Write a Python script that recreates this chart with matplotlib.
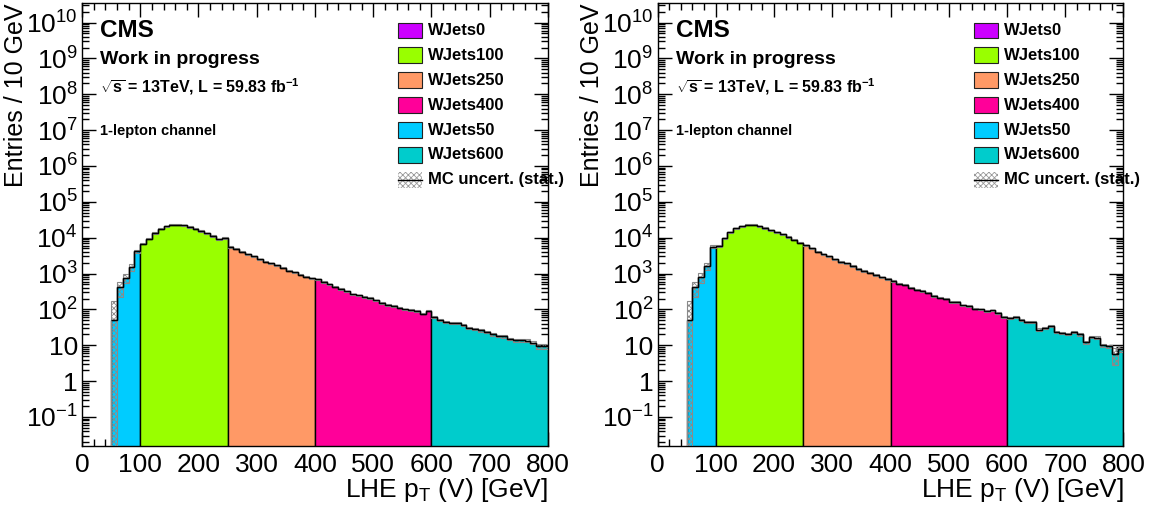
import numpy as np
import matplotlib
matplotlib.use("Agg")
import matplotlib.pyplot as plt
from matplotlib.patches import Rectangle
from matplotlib.lines import Line2D
from matplotlib.ticker import MultipleLocator, LogLocator, FixedLocator, FuncFormatter, NullFormatter

plt.rcParams['font.family'] = ['Liberation Sans', 'DejaVu Sans']
plt.rcParams['mathtext.fontset'] = 'custom'
plt.rcParams['mathtext.rm'] = 'Liberation Sans'
plt.rcParams['mathtext.it'] = 'Liberation Sans:italic'
plt.rcParams['mathtext.bf'] = 'Liberation Sans:bold'
plt.rcParams['hatch.linewidth'] = 0.6

# ---- samples (legend order) and colours ----
samples = ["WJets0", "WJets100", "WJets250", "WJets400", "WJets50", "WJets600"]
colors = {
    "WJets0": "#cc00ff",
    "WJets100": "#99ff00",
    "WJets250": "#ff9966",
    "WJets400": "#ff0099",
    "WJets50": "#00ccff",
    "WJets600": "#00cccc",
}
# first bin edge of each populated sample (GeV), 10 GeV bins
bin_width = 10
first_edge = {"WJets50": 50, "WJets100": 100, "WJets250": 250, "WJets400": 400, "WJets600": 600}

# ---- left panel: entries per 10 GeV bin ----
left_w50 = [52, 410, 760, 1510, 4170]
left_w100 = [6760, 9330, 13500, 17800, 20900, 22900, 22900, 21900, 20000, 17800,
             15500, 13200, 11200, 9120, 9770]
left_w250 = [5500, 4900, 4070, 3470, 3020, 2510, 2140, 1910, 1700, 1450,
             1200, 1070, 930, 810, 740]
left_w400 = [690, 590, 500, 430, 365, 316, 263, 245, 224, 209,
             178, 151, 135, 123, 112, 100, 95, 91, 76, 93]
left_w600 = [62, 52, 45, 42, 41, 37, 31, 29, 26, 23.4,
             20, 18.2, 17.8, 14.8, 13.8, 13.8, 13.5, 11.7, 9.3, 9.3]

# ---- right panel: entries per 10 GeV bin ----
right_w50 = [52, 410, 800, 1600, 5560]
right_w100 = [5900, 9500, 14000, 18200, 20900, 22900, 22900, 20900, 18600, 16200,
              14000, 12300, 10500, 8900, 7300]
right_w250 = [6170, 5000, 4070, 3470, 3020, 2510, 2090, 1910, 1620, 1350,
              1175, 1050, 910, 795, 710]
right_w400 = [617, 525, 490, 407, 355, 324, 295, 234, 214, 200,
              162, 162, 129, 124, 105, 100, 91, 94, 79, 62]
right_w600 = [59, 60, 52, 45, 45, 27.5, 30, 35, 23.4, 21.9,
              20.9, 23.4, 20, 12.3, 17, 16.2, 10, 9.3, 5.6, 8.1]

# ---- relative MC statistical uncertainties ----
rel_w50 = [2.4, 0.45, 0.3, 0.2, 0.1]
rel_w100 = 0.04
rel_w250 = 0.04
rel_w400 = 0.05
left_rel_w600 = [0.06, 0.06, 0.06, 0.06, 0.06, 0.06, 0.07, 0.07, 0.07, 0.07,
                 0.08, 0.08, 0.08, 0.08, 0.09, 0.09, 0.09, 0.1, 0.15, 0.15]
right_rel_w600 = [0.06, 0.06, 0.06, 0.06, 0.06, 0.07, 0.07, 0.07, 0.08, 0.08,
                  0.08, 0.08, 0.09, 0.1, 0.09, 0.1, 0.12, 0.12, 0.5, 0.2]

y_min, y_max = 10 ** -1.81, 10 ** 10.544
x_min, x_max = 0, 800


def y_fmt(v, pos):
    e = int(round(np.log10(v)))
    if e == 0:
        return "1"
    if e == 1:
        return "10"
    return r"$10^{%d}$" % e


def draw_panel(ax, counts, rel600):
    order = ["WJets50", "WJets100", "WJets250", "WJets400", "WJets600"]
    rel = {"WJets50": rel_w50, "WJets100": [rel_w100] * len(counts["WJets100"]),
           "WJets250": [rel_w250] * len(counts["WJets250"]),
           "WJets400": [rel_w400] * len(counts["WJets400"]),
           "WJets600": rel600}
    tot_vals, tot_rel = [], []
    for name in order:
        vals = np.asarray(counts[name], dtype=float)
        edges = first_edge[name] + bin_width * np.arange(len(vals) + 1)
        ax.stairs(vals, edges, baseline=1e-3, fill=True, facecolor=colors[name],
                  edgecolor="black", linewidth=1.0, zorder=2)
        tot_vals.extend(vals)
        tot_rel.extend(rel[name])
    tot_vals = np.asarray(tot_vals)
    tot_rel = np.asarray(tot_rel)
    edges = first_edge["WJets50"] + bin_width * np.arange(len(tot_vals) + 1)
    upper = tot_vals * (1 + tot_rel)
    lower = np.clip(tot_vals * (1 - tot_rel), 1e-3, None)
    ax.stairs(upper, edges, baseline=lower, fill=True, facecolor="none",
              edgecolor="#8a8a8a", hatch="xxxxxx", linewidth=0.8, zorder=3)
    ax.stairs(tot_vals, edges, baseline=None, color="black", linewidth=1.0, zorder=4)

    ax.set_yscale("log")
    ax.set_xlim(x_min, x_max)
    ax.set_ylim(y_min, y_max)
    ax.xaxis.set_major_locator(MultipleLocator(100))
    ax.xaxis.set_minor_locator(MultipleLocator(20))
    ax.yaxis.set_major_locator(FixedLocator([10.0 ** e for e in range(-1, 11)]))
    ax.yaxis.set_major_formatter(FuncFormatter(y_fmt))
    ax.yaxis.set_minor_locator(LogLocator(base=10, subs=np.arange(2, 10), numticks=100))
    ax.yaxis.set_minor_formatter(NullFormatter())
    ax.tick_params(which="both", direction="in", top=True, right=True,
                   labelsize=19, width=1.0)
    ax.tick_params(which="major", length=10)
    ax.tick_params(which="minor", length=5)
    ax.tick_params(axis="x", which="major", pad=5)
    ax.tick_params(axis="y", which="major", pad=3)
    for s in ax.spines.values():
        s.set_linewidth(1.0)

    ax.set_xlabel(r"LHE p$_\mathregular{T}$ (V) [GeV]", fontsize=19, loc="right")
    ax.xaxis.set_label_coords(1.0, -0.068)
    ax.set_ylabel("Entries / 10 GeV", fontsize=18, loc="top")
    ax.yaxis.set_label_coords(-0.115, 1.0)

    # header texts
    ax.text(0.039, 0.939, "CMS", transform=ax.transAxes, fontsize=17.5,
            fontweight="bold", va="center", ha="left")
    ax.text(0.039, 0.872, "Work in progress", transform=ax.transAxes, fontsize=14,
            fontweight="bold", va="center", ha="left")
    ax.text(0.039, 0.812, r"$\sqrt{\mathbf{s}}$ = 13TeV, L = 59.83 fb$^{\mathbf{-1}}$",
            transform=ax.transAxes, fontsize=11.5, fontweight="bold",
            va="center", ha="left")
    ax.text(0.039, 0.712, "1-lepton channel", transform=ax.transAxes, fontsize=10.5,
            fontweight="bold", va="center", ha="left")

    # legend
    box_x, box_w, box_h = 0.679, 0.0515, 0.036
    text_x = 0.743
    row_top, row_step = 0.938, 0.0562
    labels = samples + ["MC uncert. (stat.)"]
    for i, lab in enumerate(labels):
        yc = row_top - i * row_step
        if i < len(samples):
            ax.add_patch(Rectangle((box_x, yc - box_h / 2), box_w, box_h,
                                   transform=ax.transAxes, facecolor=colors[lab],
                                   edgecolor="#222222", linewidth=0.8, zorder=5))
        else:
            ax.add_patch(Rectangle((box_x, yc - box_h / 2), box_w, box_h,
                                   transform=ax.transAxes, facecolor="white",
                                   edgecolor="#9a9a9a", hatch="xxxxxx",
                                   linewidth=0.0, zorder=5))
            ax.add_line(Line2D([box_x, box_x + box_w], [yc, yc], transform=ax.transAxes,
                               color="black", linewidth=1.0, zorder=6))
        ax.text(text_x, yc, lab, transform=ax.transAxes, fontsize=12,
                fontweight="bold", va="center", ha="left", zorder=6, clip_on=False)


fig = plt.figure(figsize=(11.58, 5.08), dpi=100)
ax_left = fig.add_axes([0.0708, 0.122, 0.4024, 0.872])
ax_right = fig.add_axes([0.5678, 0.122, 0.4024, 0.872])

draw_panel(ax_left, {"WJets50": left_w50, "WJets100": left_w100, "WJets250": left_w250,
                     "WJets400": left_w400, "WJets600": left_w600}, left_rel_w600)
draw_panel(ax_right, {"WJets50": right_w50, "WJets100": right_w100, "WJets250": right_w250,
                      "WJets400": right_w400, "WJets600": right_w600}, right_rel_w600)

fig.savefig("out.png", dpi=100)
